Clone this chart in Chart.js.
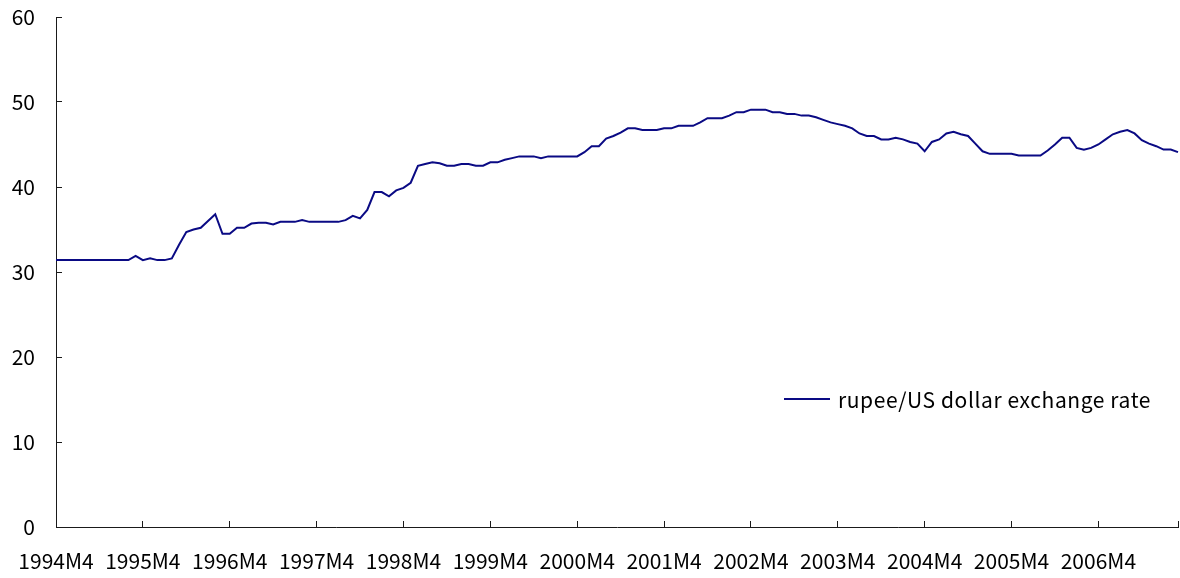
<!DOCTYPE html>
<html>
<head>
<meta charset="utf-8">
<script src="https://cdn.jsdelivr.net/npm/chart.js@4/dist/chart.umd.min.js"></script>
<style>
  html, body { margin: 0; padding: 0; background: #fff; }
  #wrap { width: 1180px; height: 578px; position: relative; }
</style>
</head>
<body>
<div id="wrap"><canvas id="c"></canvas></div>
<script>
// Monthly calendar: April 1994 through March 2007
const firstYear = 1994;
const firstMonth = 4;
const monthCount = 156;
const months = [];
for (let i = 0; i < monthCount; i++) {
  const m = firstMonth - 1 + i;
  months.push((firstYear + Math.floor(m / 12)) + 'M' + ((m % 12) + 1));
}

// Rupee per US dollar, one row per April–March year
const fy1994 = [31.4, 31.4, 31.4, 31.4, 31.4, 31.4, 31.4, 31.4, 31.4, 31.4, 31.4, 31.9];
const fy1995 = [31.4, 31.6, 31.4, 31.4, 31.6, 33.2, 34.7, 35.0, 35.2, 36.0, 36.8, 34.5];
const fy1996 = [34.5, 35.2, 35.2, 35.7, 35.8, 35.8, 35.6, 35.9, 35.9, 35.9, 36.1, 35.9];
const fy1997 = [35.9, 35.9, 35.9, 35.9, 36.1, 36.6, 36.3, 37.3, 39.4, 39.4, 38.9, 39.6];
const fy1998 = [39.9, 40.5, 42.5, 42.7, 42.9, 42.8, 42.5, 42.5, 42.7, 42.7, 42.5, 42.5];
const fy1999 = [42.9, 42.9, 43.2, 43.4, 43.6, 43.6, 43.6, 43.4, 43.6, 43.6, 43.6, 43.6];
const fy2000 = [43.6, 44.1, 44.8, 44.8, 45.7, 46.0, 46.4, 46.9, 46.9, 46.7, 46.7, 46.7];
const fy2001 = [46.9, 46.9, 47.2, 47.2, 47.2, 47.6, 48.1, 48.1, 48.1, 48.4, 48.8, 48.8];
const fy2002 = [49.1, 49.1, 49.1, 48.8, 48.8, 48.6, 48.6, 48.4, 48.4, 48.2, 47.9, 47.6];
const fy2003 = [47.4, 47.2, 46.9, 46.3, 46.0, 46.0, 45.6, 45.6, 45.8, 45.6, 45.3, 45.1];
const fy2004 = [44.2, 45.3, 45.6, 46.3, 46.5, 46.2, 46.0, 45.1, 44.2, 43.9, 43.9, 43.9];
const fy2005 = [43.9, 43.7, 43.7, 43.7, 43.7, 44.3, 45.0, 45.8, 45.8, 44.6, 44.4, 44.6];
const fy2006 = [45.0, 45.6, 46.2, 46.5, 46.7, 46.3, 45.5, 45.1, 44.8, 44.4, 44.4, 44.1];

const rupeePerDollar = [].concat(fy1994, fy1995, fy1996, fy1997, fy1998, fy1999,
  fy2000, fy2001, fy2002, fy2003, fy2004, fy2005, fy2006);

const seriesName = 'rupee/US dollar exchange rate';
const yTicks = [0, 10, 20, 30, 40, 50, 60];

const FONT = "'Noto Sans CJK JP', 'DejaVu Sans', sans-serif";
const LINE = '#0a0a84';
const AXIS = '#1a1a1a';

// Legend drawn inside the plot area, to the right
const insideLegend = {
  id: 'insideLegend',
  afterDraw(chart) {
    const ctx = chart.ctx;
    const ds = chart.data.datasets[0];
    const x0 = 784, x1 = 830, y = 399;
    ctx.save();
    ctx.strokeStyle = ds.borderColor;
    ctx.lineWidth = 2;
    ctx.beginPath();
    ctx.moveTo(x0, y);
    ctx.lineTo(x1, y);
    ctx.stroke();
    ctx.fillStyle = '#000';
    ctx.font = '21px ' + FONT;
    ctx.letterSpacing = '0.6px';
    ctx.textBaseline = 'middle';
    ctx.textAlign = 'left';
    ctx.fillText(ds.label, 838, y + 1);
    ctx.restore();
  }
};

new Chart(document.getElementById('c'), {
  type: 'line',
  data: {
    labels: months,
    datasets: [{
      label: seriesName,
      data: rupeePerDollar,
      borderColor: LINE,
      borderWidth: 2,
      pointRadius: 0,
      fill: false,
      tension: 0
    }]
  },
  options: {
    responsive: true,
    maintainAspectRatio: false,
    animation: false,
    events: [],
    layout: { padding: { top: 17, right: 2, left: 0, bottom: 0 } },
    plugins: {
      legend: { display: false },
      tooltip: { enabled: false }
    },
    scales: {
      x: {
        type: 'category',
        offset: false,
        border: { display: true, color: AXIS, width: 1 },
        grid: {
          display: true,
          drawOnChartArea: false,
          drawTicks: true,
          tickLength: -6,
          color: AXIS
        },
        ticks: {
          autoSkip: false,
          maxRotation: 0,
          minRotation: 0,
          padding: 27,
          color: '#000',
          font: { family: FONT, size: 21 },
          callback(value, index) {
            if (index % 12 === 0) return months[index];
            if (index === monthCount - 1) return '';
            return null;
          }
        },
        afterFit(scale) {
          scale.height = 51;
          scale.paddingLeft = 0;
          scale.paddingRight = 0;
        }
      },
      y: {
        min: yTicks[0],
        max: yTicks[yTicks.length - 1],
        border: { display: true, color: AXIS, width: 1 },
        grid: {
          display: true,
          drawOnChartArea: false,
          drawTicks: true,
          tickLength: -6,
          color: AXIS
        },
        afterBuildTicks(scale) {
          scale.ticks = yTicks.map(v => ({ value: v }));
        },
        ticks: {
          padding: 27,
          color: '#000',
          font: { family: FONT, size: 21 }
        },
        afterFit(scale) {
          scale.width = 56;
          scale.paddingTop = 0;
          scale.paddingBottom = 0;
        }
      }
    }
  },
  plugins: [insideLegend]
});
</script>
</body>
</html>
